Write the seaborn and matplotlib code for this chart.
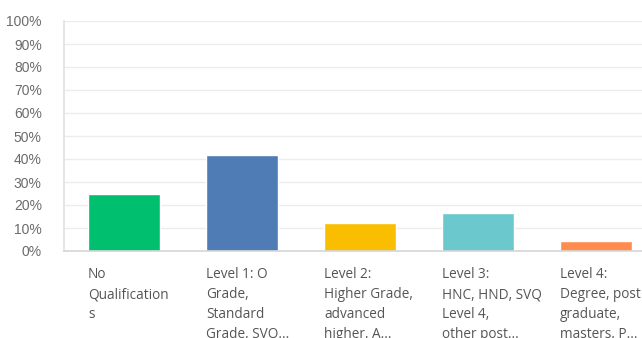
import matplotlib
matplotlib.use("Agg")
import matplotlib.pyplot as plt
import matplotlib.transforms as mtransforms
import seaborn as sns
import pandas as pd

categories = [
    "No Qualifications",
    "Level 1: O Grade, Standard Grade, SVQ...",
    "Level 2: Higher Grade, advanced higher, A...",
    "Level 3: HNC, HND, SVQ Level 4, other post...",
    "Level 4: Degree, post graduate, masters, P...",
]
tick_labels = [
    "No\nQualification\ns",
    "Level 1: O\nGrade,\nStandard\nGrade, SVQ...",
    "Level 2:\nHigher Grade,\nadvanced\nhigher, A...",
    "Level 3:\nHNC, HND, SVQ\nLevel 4,\nother post...",
    "Level 4:\nDegree, post\ngraduate,\nmasters, P...",
]
percentages = [24.8, 41.7, 12.2, 16.5, 4.3]
colors = ["#00bf6f", "#507cb6", "#f9be00", "#6bc8cd", "#ff8b4f"]

df = pd.DataFrame({"category": categories, "pct": percentages})

sns.set_theme(style="white")
plt.rcParams["font.family"] = ["Open Sans", "DejaVu Sans"]

fig = plt.figure(figsize=(6.42, 3.38), dpi=100)
ax = fig.add_axes([64 / 642, 87 / 338, 590 / 642, 230 / 338])

sns.barplot(data=df, x="category", y="pct", hue="category",
            palette=colors, width=0.61, saturation=1, legend=False, ax=ax)

ax.set_xlim(-0.508, 4.492)
ax.set_ylim(0, 100)
ax.set_yticks(range(0, 101, 10))
ax.set_yticklabels([f"{v}%" for v in range(0, 101, 10)], fontsize=10,
                   color="#6b6b6b", family=["Liberation Sans", "DejaVu Sans"])
ax.tick_params(axis="y", length=0, pad=16)
ax.set_xticks([])
ax.set_xlabel("")
ax.set_ylabel("")
ax.grid(axis="y", color="#ececec", linewidth=1)
ax.set_axisbelow(True)

for side in ["top", "right"]:
    ax.spines[side].set_visible(False)
ax.spines["left"].set_color("#e2e2e2")
ax.spines["bottom"].set_color("#d5d5d5")
ax.spines["bottom"].set_linewidth(1.2)

trans = mtransforms.blended_transform_factory(ax.transData, ax.transAxes)
for i, lab in enumerate(tick_labels):
    ax.text(i - 0.305, -0.07, lab, transform=trans, ha="left", va="top",
            fontsize=9.8, color="#555555", linespacing=1.45, clip_on=False)

fig.savefig("out.png", dpi=100)
